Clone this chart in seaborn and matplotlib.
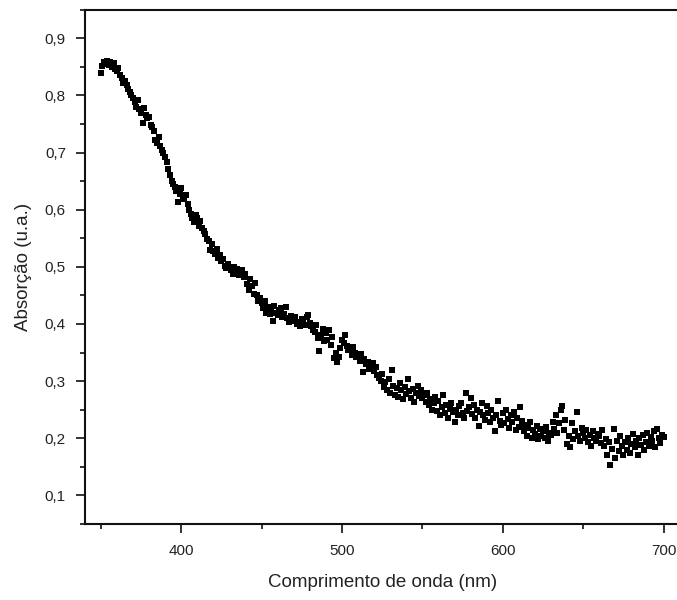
import numpy as np
import pandas as pd
import matplotlib
matplotlib.use("Agg")
import matplotlib.pyplot as plt
from matplotlib.ticker import MultipleLocator, FuncFormatter
import seaborn as sns

# Wavelength (nm), 1 nm steps from 350 to 700
wavelength = list(range(350, 701))

# Absorbance, 10 values per row (350-359, 360-369, ...)
absorbance = [
    0.840, 0.852, 0.858, 0.855, 0.860, 0.853, 0.858, 0.850, 0.856, 0.846,
    0.842, 0.848, 0.836, 0.830, 0.822, 0.826, 0.818, 0.812, 0.806, 0.800,
    0.795, 0.788, 0.780, 0.792, 0.776, 0.770, 0.752, 0.778, 0.766, 0.760,
    0.762, 0.748, 0.745, 0.738, 0.722, 0.716, 0.728, 0.712, 0.705, 0.700,
    0.692, 0.684, 0.672, 0.660, 0.650, 0.645, 0.640, 0.632, 0.614, 0.628,
    0.638, 0.622, 0.618, 0.626, 0.610, 0.600, 0.592, 0.585, 0.578, 0.590,
    0.586, 0.572, 0.580, 0.568, 0.562, 0.558, 0.548, 0.545, 0.530, 0.540,
    0.528, 0.522, 0.532, 0.516, 0.520, 0.510, 0.514, 0.502, 0.498, 0.505,
    0.500, 0.495, 0.488, 0.500, 0.492, 0.496, 0.485, 0.490, 0.494, 0.482,
    0.488, 0.470, 0.460, 0.478, 0.466, 0.452, 0.472, 0.450, 0.440, 0.445,
    0.436, 0.428, 0.440, 0.420, 0.430, 0.418, 0.425, 0.405, 0.432, 0.420,
    0.416, 0.424, 0.428, 0.412, 0.418, 0.430, 0.410, 0.404, 0.414, 0.408,
    0.406, 0.412, 0.400, 0.404, 0.396, 0.408, 0.402, 0.398, 0.412, 0.416,
    0.402, 0.396, 0.390, 0.386, 0.398, 0.376, 0.352, 0.380, 0.392, 0.370,
    0.384, 0.372, 0.390, 0.364, 0.378, 0.340, 0.350, 0.334, 0.342, 0.358,
    0.372, 0.366, 0.380, 0.362, 0.354, 0.356, 0.346, 0.360, 0.350, 0.342,
    0.344, 0.336, 0.348, 0.316, 0.338, 0.330, 0.334, 0.322, 0.326, 0.332,
    0.318, 0.324, 0.310, 0.306, 0.300, 0.312, 0.290, 0.298, 0.284, 0.304,
    0.280, 0.320, 0.292, 0.276, 0.288, 0.272, 0.296, 0.284, 0.268, 0.290,
    0.278, 0.304, 0.282, 0.270, 0.286, 0.264, 0.280, 0.292, 0.274, 0.284,
    0.270, 0.276, 0.264, 0.280, 0.258, 0.268, 0.250, 0.262, 0.272, 0.248,
    0.266, 0.240, 0.254, 0.276, 0.244, 0.258, 0.236, 0.252, 0.262, 0.246,
    0.228, 0.250, 0.240, 0.256, 0.262, 0.244, 0.236, 0.280, 0.248, 0.254,
    0.270, 0.242, 0.258, 0.236, 0.250, 0.222, 0.246, 0.262, 0.240, 0.232,
    0.256, 0.244, 0.228, 0.250, 0.236, 0.212, 0.240, 0.265, 0.230, 0.224,
    0.244, 0.226, 0.250, 0.234, 0.218, 0.240, 0.228, 0.246, 0.214, 0.236,
    0.220, 0.255, 0.230, 0.212, 0.224, 0.204, 0.218, 0.228, 0.200, 0.214,
    0.208, 0.222, 0.198, 0.216, 0.204, 0.212, 0.200, 0.220, 0.196, 0.210,
    0.206, 0.228, 0.216, 0.240, 0.210, 0.226, 0.250, 0.257, 0.214, 0.232,
    0.190, 0.204, 0.184, 0.226, 0.198, 0.212, 0.246, 0.204, 0.196, 0.218,
    0.210, 0.200, 0.214, 0.194, 0.206, 0.187, 0.212, 0.200, 0.196, 0.208,
    0.204, 0.192, 0.214, 0.186, 0.198, 0.170, 0.194, 0.154, 0.182, 0.216,
    0.166, 0.196, 0.178, 0.204, 0.186, 0.170, 0.194, 0.180, 0.200, 0.174,
    0.190, 0.208, 0.184, 0.196, 0.170, 0.200, 0.188, 0.206, 0.180, 0.194,
    0.210, 0.186, 0.202, 0.196, 0.212, 0.184, 0.216, 0.200, 0.192, 0.206,
    0.202,
]

x_label = "Comprimento de onda (nm)"
y_label = "Absorção (u.a.)"

df = pd.DataFrame({"wavelength": wavelength, "absorbance": absorbance})

sns.set_style("ticks")
plt.rcParams["font.family"] = ["Liberation Sans", "DejaVu Sans"]

fig = plt.figure(figsize=(6.77, 6.00), dpi=100)
ax = fig.add_axes([84.7 / 677, 76 / 600, (679.6 - 84.7) / 677, (524 - 9.7) / 600])

sns.scatterplot(data=df, x="wavelength", y="absorbance", ax=ax,
                marker="s", s=14, color="black", linewidth=0, legend=False)

ax.set_xlim(340, 710)
ax.set_ylim(0.05, 0.95)
ax.xaxis.set_major_locator(MultipleLocator(100))
ax.xaxis.set_minor_locator(MultipleLocator(50))
ax.yaxis.set_major_locator(MultipleLocator(0.1))
ax.yaxis.set_minor_locator(MultipleLocator(0.05))
ax.yaxis.set_major_formatter(FuncFormatter(lambda v, p: f"{v:.1f}".replace(".", ",")))

for side in ["left", "bottom", "top"]:
    ax.spines[side].set_linewidth(1.5)
    ax.spines[side].set_color("#111111")
ax.spines["right"].set_visible(False)

ax.tick_params(which="major", direction="out", length=6.5, width=1.2,
               labelsize=11, colors="#111111", labelcolor="#222222", pad=7)
ax.tick_params(which="minor", direction="out", length=3.5, width=1.2, colors="#111111")
ax.tick_params(axis="x", which="major", pad=8)

ax.set_xlabel(x_label, fontsize=13.5, color="#222222")
ax.set_ylabel(y_label, fontsize=13.5, color="#222222")
ax.xaxis.set_label_coords(0.5, -0.098)
ax.yaxis.set_label_coords(-0.088, 0.5)

fig.savefig("out.png", dpi=100)
